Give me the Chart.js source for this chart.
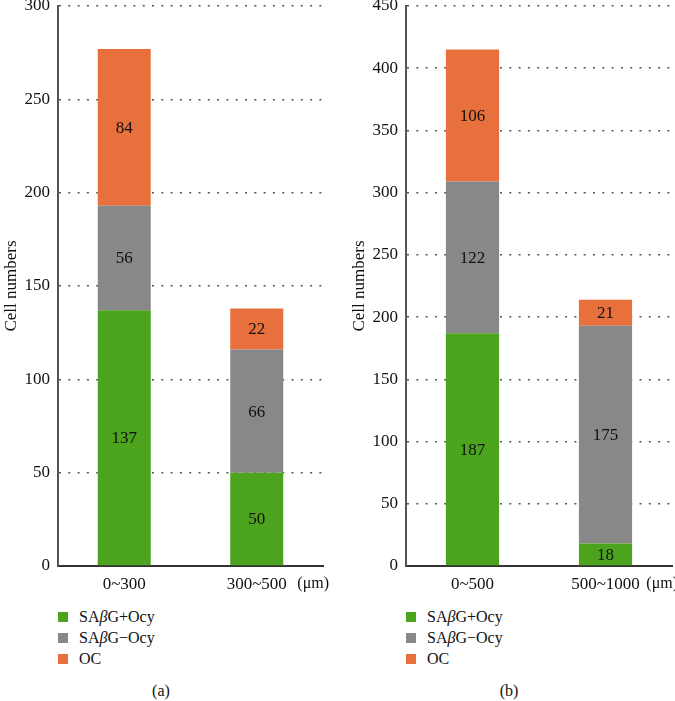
<!DOCTYPE html>
<html>
<head>
<meta charset="utf-8">
<script src="https://cdn.jsdelivr.net/npm/chart.js@4/dist/chart.umd.min.js"></script>
<style>
  body { margin: 0; background: #fff; width: 675px; height: 701px; position: relative; overflow: hidden;
         font-family: "Liberation Serif", Tinos, "Times New Roman", "DejaVu Serif", serif; color: #111; }
  .box { position: absolute; top: 0; height: 600px; }
  .legend { position: absolute; font-size: 16px; }
  .legend div { position: relative; height: 21px; line-height: 21px; white-space: nowrap; }
  .legend span.sw { position: absolute; left: 0; top: 6px; width: 10px; height: 10px; }
  .legend span.tx { position: absolute; left: 21px; top: 0; }
  .cap { position: absolute; top: 682px; font-size: 16px; width: 40px; text-align: center; }
</style>
</head>
<body>
<div class="box" style="left:0;width:340px"><canvas id="chartA"></canvas></div>
<div class="box" style="left:348px;width:327px"><canvas id="chartB"></canvas></div>
<div class="legend" id="legendA" style="left:58px;top:606px"></div>
<div class="legend" id="legendB" style="left:406px;top:606px"></div>
<div class="cap" style="left:141px">(a)</div>
<div class="cap" style="left:489px">(b)</div>
<script>
const seriesNames = ['SAβG+Ocy', 'SAβG−Ocy', 'OC'];
const seriesColors = ['#4ca31d', '#888888', '#e8703c'];

const labelsA = ['0~300', '300~500'];
const positiveA = [137, 50];
const negativeA = [56, 66];
const ocA = [84, 22];

const labelsB = ['0~500', '500~1000'];
const positiveB = [187, 18];
const negativeB = [122, 175];
const ocB = [106, 21];

const fontFamily = '"Liberation Serif", Tinos, "Times New Roman", "DejaVu Serif", serif';

// numbers in the middle of each stacked segment
const segmentLabels = {
  id: 'segmentLabels',
  afterDatasetsDraw(chart) {
    const ctx = chart.ctx;
    ctx.save();
    ctx.font = '17px ' + fontFamily;
    ctx.fillStyle = '#111';
    ctx.textAlign = 'center';
    ctx.textBaseline = 'middle';
    chart.data.datasets.forEach((ds, i) => {
      chart.getDatasetMeta(i).data.forEach((bar, j) => {
        ctx.fillText(ds.data[j], bar.x, (bar.y + bar.base) / 2 + 1);
      });
    });
    ctx.restore();
  }
};

// unit text after the last category label
const unitLabel = {
  id: 'unitLabel',
  afterDraw(chart) {
    const ctx = chart.ctx;
    ctx.save();
    ctx.font = '16px ' + fontFamily;
    ctx.fillStyle = '#111';
    ctx.textAlign = 'right';
    ctx.textBaseline = 'middle';
    ctx.fillText('(μm)', chart.chartArea.right + 6, chart.chartArea.bottom + 18);
    ctx.restore();
  }
};

function makeChart(id, labels, pos, neg, oc, yMax, padRight) {
  const values = [pos, neg, oc];
  return new Chart(document.getElementById(id), {
    type: 'bar',
    data: {
      labels: labels,
      datasets: seriesNames.map((name, i) => ({
        label: name,
        data: values[i],
        backgroundColor: seriesColors[i],
        borderWidth: 0,
        barPercentage: 0.4,
        categoryPercentage: 1
      }))
    },
    options: {
      responsive: true,
      maintainAspectRatio: false,
      animation: false,
      layout: { padding: { right: padRight } },
      plugins: { legend: { display: false }, tooltip: { enabled: false } },
      scales: {
        x: {
          stacked: true,
          grid: { display: false, drawTicks: false },
          border: { display: true, color: '#333', width: 2 },
          ticks: { color: '#111', font: { family: fontFamily, size: 17 }, padding: 8 },
          afterFit(scale) { scale.height = 34; }
        },
        y: {
          stacked: true,
          min: 0,
          max: yMax,
          grid: { color: '#555', lineWidth: 1.5, drawTicks: false },
          border: { display: true, color: '#555', width: 2, dash: [2, 7.3] },
          ticks: { stepSize: 50, color: '#111', font: { family: fontFamily, size: 17 }, padding: 8 },
          title: { display: true, text: 'Cell numbers', color: '#111',
                   font: { family: fontFamily, size: 17 }, padding: { top: 1, bottom: 0 } },
          afterFit(scale) { scale.width = 58; scale.paddingTop = 6; scale.paddingBottom = 0; }
        }
      }
    },
    plugins: [segmentLabels, unitLabel]
  });
}

makeChart('chartA', labelsA, positiveA, negativeA, ocA, 300, 17);
makeChart('chartB', labelsB, positiveB, negativeB, ocB, 450, 3);

function fillLegend(id) {
  const el = document.getElementById(id);
  seriesNames.forEach((name, i) => {
    const row = document.createElement('div');
    const sw = document.createElement('span');
    sw.className = 'sw';
    sw.style.background = seriesColors[i];
    const tx = document.createElement('span');
    tx.className = 'tx';
    tx.innerHTML = name.replace('β', '<i>β</i>');
    row.appendChild(sw);
    row.appendChild(tx);
    el.appendChild(row);
  });
}
fillLegend('legendA');
fillLegend('legendB');
</script>
</body>
</html>
